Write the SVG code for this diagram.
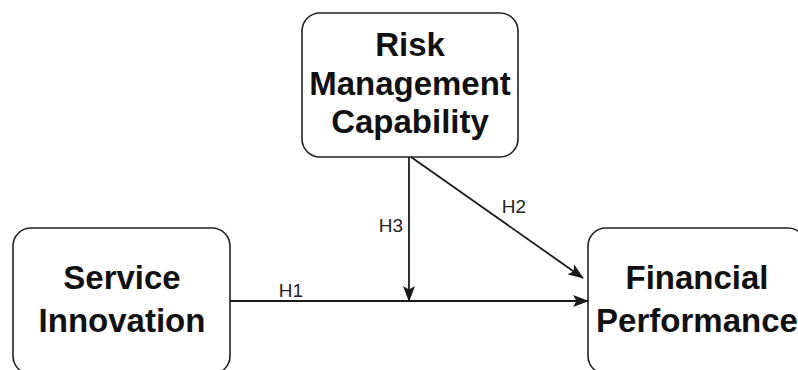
<svg xmlns="http://www.w3.org/2000/svg" width="798" height="370" viewBox="0 0 798 370">
  <style>
    .box { fill: #ffffff; stroke: #222222; stroke-width: 1.6; }
    .title { font-family: "Liberation Sans", Arial, sans-serif; font-weight: bold; font-size: 33px; fill: #111111; text-anchor: middle; }
    .edge { fill: none; stroke: #1a1a1a; stroke-width: 1.8; }
    .lbl { font-family: "Liberation Sans", Arial, sans-serif; font-size: 19px; fill: #222222; text-anchor: middle; }
  </style>
  <defs>
    <marker id="arrow" viewBox="0 0 16 12" refX="15" refY="6" markerWidth="16" markerHeight="12" markerUnits="userSpaceOnUse" orient="auto">
      <path d="M0,0 L16,6 L0,12 L3.5,6 Z" fill="#1a1a1a"/>
    </marker>
  </defs>
  <rect width="798" height="370" fill="#ffffff"/>

  <g id="risk-management-capability">
    <rect class="box" x="302" y="13" width="216" height="144" rx="18" ry="18"/>
    <text class="title" x="410" y="56">Risk</text>
    <text class="title" x="410" y="95">Management</text>
    <text class="title" x="410" y="133">Capability</text>
  </g>

  <g id="service-innovation">
    <rect class="box" x="13" y="228" width="217" height="146" rx="18" ry="18"/>
    <text class="title" x="122" y="289">Service</text>
    <text class="title" x="122" y="332">Innovation</text>
  </g>

  <g id="financial-performance">
    <rect class="box" x="588" y="228" width="218" height="146" rx="18" ry="18"/>
    <text class="title" x="697" y="289">Financial</text>
    <text class="title" x="697" y="332">Performance</text>
  </g>

  <g id="connectors">
    <line class="edge" x1="230" y1="301" x2="588" y2="301" marker-end="url(#arrow)"/>
    <line class="edge" x1="409" y1="157" x2="409" y2="301" marker-end="url(#arrow)"/>
    <line class="edge" x1="411" y1="157" x2="583" y2="278" marker-end="url(#arrow)"/>
    <text class="lbl" x="291" y="297">H1</text>
    <text class="lbl" x="514" y="213">H2</text>
    <text class="lbl" x="391" y="232">H3</text>
  </g>
</svg>
